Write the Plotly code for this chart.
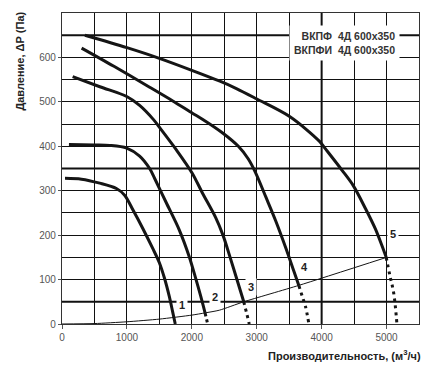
import plotly.graph_objects as go

# ---------------- data ----------------
curve1_x = [46, 300, 581, 838, 965, 1092, 1245, 1398, 1500, 1577, 1653, 1704, 1745]
curve1_y = [328, 326, 317, 305, 290, 257, 215, 170, 138, 104, 62, 28, 0]

curve2_x = [107, 500, 736, 997, 1196, 1350, 1426, 1603, 1806, 1959, 2061, 2138, 2204]
curve2_y = [404, 403, 402, 396, 378, 350, 328, 274, 212, 152, 102, 62, 25]
curve2_dot_x = [2204, 2225, 2245]
curve2_dot_y = [25, 12, 0]

curve3_x = [164, 583, 997, 1196, 1410, 1500, 1762, 2004, 2163, 2366, 2480, 2590, 2700, 2800]
curve3_y = [557, 534, 512, 492, 460, 443, 392, 340, 295, 240, 200, 150, 98, 50]
curve3_dot_x = [2800, 2845, 2885]
curve3_dot_y = [50, 24, 0]

curve4_x = [302, 800, 1350, 1707, 2015, 2163, 2475, 2717, 2868, 2978, 3140, 3293, 3451, 3574, 3650]
curve4_y = [621, 580, 533, 502, 474, 461, 430, 400, 372, 342, 286, 232, 170, 118, 86]
curve4_dot_x = [3650, 3700, 3750, 3804]
curve4_dot_y = [86, 63, 40, 0]

curve5_x = [353, 1000, 1500, 2000, 2423, 2687, 2995, 3507, 3968, 4060, 4315, 4485, 4675, 4828, 4930, 4995]
curve5_y = [650, 622, 598, 571, 547, 530, 507, 467, 411, 394, 346, 312, 260, 214, 176, 150]
curve5_dot_x = [4995, 5050, 5110, 5160]
curve5_dot_y = [150, 110, 70, 0]

system_x = [0, 500, 1000, 1500, 2000, 2204, 2423, 2800, 3650, 5000]
system_y = [0, 1, 5, 11, 20, 25, 31, 50, 87, 150]

curve_labels = ["1", "2", "3", "4", "5"]
label_x = [1856, 2362, 2914, 3742, 5107]
label_y = [43, 61, 84, 128, 202]

x_ticks = [0, 1000, 2000, 3000, 4000, 5000]
y_ticks = [0, 100, 200, 300, 400, 500, 600]

title_lines = ["ВКПФ\u00a0\u00a04Д 600x350", "ВКПФИ\u00a0\u00a04Д 600x350"]
x_title = "Производительность, (м<sup>3</sup>/ч)"
y_title = "Давление, ΔР (Па)"

# ---------------- figure ----------------
FONT = "Liberation Sans, Arial, sans-serif"
CURVE_COLOR = "#151515"

fig = go.Figure()

# system curve (thin)
fig.add_trace(go.Scatter(x=system_x, y=system_y, mode="lines",
                         line=dict(color=CURVE_COLOR, width=1, shape="spline", smoothing=0.6),
                         hoverinfo="skip", showlegend=False))

solid = [(curve1_x, curve1_y), (curve2_x, curve2_y), (curve3_x, curve3_y),
         (curve4_x, curve4_y), (curve5_x, curve5_y)]
for cx, cy in solid:
    fig.add_trace(go.Scatter(x=cx, y=cy, mode="lines",
                             line=dict(color=CURVE_COLOR, width=3, shape="spline", smoothing=0.9),
                             hoverinfo="skip", showlegend=False))

dotted = [(curve2_dot_x, curve2_dot_y), (curve3_dot_x, curve3_dot_y),
          (curve4_dot_x, curve4_dot_y), (curve5_dot_x, curve5_dot_y)]
for cx, cy in dotted:
    fig.add_trace(go.Scatter(x=cx, y=cy, mode="lines",
                             line=dict(color=CURVE_COLOR, width=3, dash="3px,4px", shape="spline"),
                             hoverinfo="skip", showlegend=False))

# emphasised grid lines
for yv in [650, 350, 50]:
    fig.add_shape(type="line", xref="paper", x0=0, x1=1, yref="y", y0=yv, y1=yv,
                  line=dict(color="#111", width=2), layer="below")
fig.add_shape(type="line", xref="x", x0=4000, x1=4000, yref="paper", y0=0, y1=1,
              line=dict(color="#111", width=2), layer="below")

annotations = []
for t, lx, ly in zip(curve_labels, label_x, label_y):
    annotations.append(dict(x=lx, y=ly, xref="x", yref="y", text=t, showarrow=False,
                            font=dict(family=FONT, size=11, color="#222", weight="bold"),
                            bgcolor="white", borderpad=2))

annotations.append(dict(x=5205, y=632, xref="x", yref="y", xanchor="right", yanchor="middle",
                        text="<br>".join(title_lines), align="right", showarrow=False,
                        font=dict(family=FONT, size=10.5, color="#333", weight="bold"),
                        bgcolor="white", borderpad=4))

annotations.append(dict(x=1.012, y=-0.1, xref="paper", yref="paper", xanchor="right", yanchor="middle",
                        text=x_title, showarrow=False,
                        font=dict(family=FONT, size=11, color="#222", weight="bold")))
annotations.append(dict(x=-0.117, y=1.01, xref="paper", yref="paper", xanchor="center", yanchor="top",
                        text=y_title, textangle=-90, showarrow=False,
                        font=dict(family=FONT, size=11, color="#222", weight="bold")))

fig.update_layout(
    width=433, height=372,
    margin=dict(l=62, r=14, t=13, b=48),
    paper_bgcolor="white", plot_bgcolor="white",
    showlegend=False,
    annotations=annotations,
    font=dict(family=FONT, size=10, color="#555"),
)
fig.update_xaxes(range=[0, 5500], tickvals=x_ticks, ticktext=[str(v) for v in x_ticks],
                 showgrid=False, zeroline=False,
                 showline=True, mirror=True, linecolor="#333", linewidth=1.2,
                 ticks="outside", ticklen=4, tickcolor="#555", tickwidth=1,
                 tickfont=dict(family=FONT, size=10, color="#555"))
fig.update_yaxes(range=[0, 700], tickvals=y_ticks, ticktext=[str(v) for v in y_ticks],
                 showgrid=False, zeroline=False,
                 showline=True, mirror=True, linecolor="#333", linewidth=1.2,
                 ticks="outside", ticklen=3, tickcolor="#555", tickwidth=1,
                 tickfont=dict(family=FONT, size=10, color="#555"))

# regular grid every 500 / 50 using minor grid
fig.update_xaxes(minor=dict(dtick=500, tick0=0, showgrid=True, gridcolor="#111", gridwidth=1.2, ticks=""))
fig.update_yaxes(minor=dict(dtick=50, tick0=0, showgrid=True, gridcolor="#111", gridwidth=1.2, ticks=""))

fig.write_html("out.html", config={"displayModeBar": False},
               post_script="document.body.style.margin='0';")
